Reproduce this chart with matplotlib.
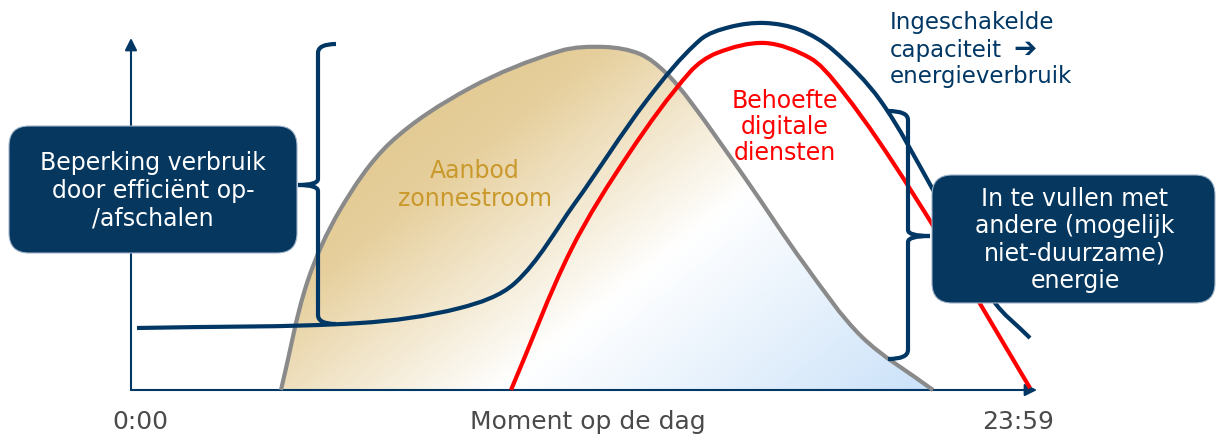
import numpy as np
import matplotlib
matplotlib.use("Agg")
import matplotlib.pyplot as plt
from matplotlib.path import Path
from matplotlib.patches import PathPatch, FancyBboxPatch
from matplotlib.colors import LinearSegmentedColormap

# time from the origin of the time axis (arbitrary units, 0:00 .. 23:59 ~ 0 .. 900)
# level above the time axis (arbitrary units)
solar_t = [150, 176, 209, 259, 339, 429, 474, 509, 534, 559, 614, 674, 731, 802]
solar_lvl = [0, 107, 180, 247, 302, 339, 343, 336, 318, 289, 212, 125, 53, 0]

capacity_t = [6, 229, 329, 384, 444, 516, 569, 599, 634, 669, 702, 749, 801, 862, 899]
capacity_lvl = [62, 67, 82, 107, 187, 290, 350, 363, 367, 360, 340, 290, 202, 90, 52]

demand_t = [380, 440, 499, 559, 586, 634, 679, 704, 749, 809, 899]
demand_lvl = [0, 140, 238, 318, 337, 347, 332, 308, 247, 153, 2]

x_labels = ["0:00", "Moment op de dag", "23:59"]
cap_label = ["Ingeschakelde", "capaciteit", "energieverbruik"]

navy = "#003764"
boxcol = "#05375F"
red = "#FF0000"
gray = "#8A8A8A"
gold_txt = "#C9992C"
lbl_gray = "#4A4A4A"


def smooth_path(xs, ys, closed=False):
    # bezier through the read points (chord-length tangents)
    p = np.column_stack([xs, ys]).astype(float)
    ext = np.vstack([p[0], p, p[-1]])
    verts = [p[0]]
    codes = [Path.MOVETO]
    for i in range(1, len(ext) - 2):
        p0, p1, p2, p3 = ext[i - 1], ext[i], ext[i + 1], ext[i + 2]
        d = np.hypot(*(p2 - p1))
        m1 = (p2 - p0) / (np.hypot(*(p1 - p0)) + d)
        m2 = (p3 - p1) / (d + np.hypot(*(p3 - p2)))
        verts += [p1 + m1 * d / 3, p2 - m2 * d / 3, p2]
        codes += [Path.CURVE4] * 3
    if closed:
        verts.append(p[0])
        codes.append(Path.CLOSEPOLY)
    return Path(verts, codes)


fig = plt.figure(figsize=(12.19, 4.38), dpi=100)
ax = fig.add_axes([0, 0, 1, 1])
ax.set_xlim(-131, 1088)
ax.set_ylim(-48, 390)
ax.axis("off")

# solar area with diagonal gradient
clip = PathPatch(smooth_path(solar_t, solar_lvl, closed=True),
                 facecolor="none", edgecolor="none")
ax.add_patch(clip)
t0, t1 = min(solar_t), max(solar_t)
l1 = max(solar_lvl)
gx, gy = np.meshgrid(np.linspace(0, 1, 300), np.linspace(0, 1, 200))
u = 0.6 * gx + 0.4 * (1 - gy)
cmap = LinearSegmentedColormap.from_list(
    "sun", [(0, "#DEC183"), (0.3, "#E6CF9C"), (0.6, "#FFFFFF"), (1.0, "#CBE2F9")])
img = ax.imshow(u, cmap=cmap, vmin=0, vmax=1, extent=[t0, t1, 0, l1 + 3],
                origin="lower", aspect="auto", zorder=1)
img.set_clip_path(clip)
ax.add_patch(PathPatch(smooth_path(solar_t, solar_lvl), facecolor="none",
                       edgecolor=gray, lw=3, zorder=3, capstyle="butt"))

# axes with arrows
ax.annotate("", xy=(0, 352), xytext=(0, 0),
            arrowprops=dict(arrowstyle="-|>", color=navy, lw=1.5,
                            mutation_scale=18, shrinkA=0, shrinkB=0), zorder=2)
ax.annotate("", xy=(906, 0), xytext=(0, 0),
            arrowprops=dict(arrowstyle="-|>", color=navy, lw=1.5,
                            mutation_scale=18, shrinkA=0, shrinkB=0), zorder=2)

# curves
ax.add_patch(PathPatch(smooth_path(capacity_t, capacity_lvl), facecolor="none",
                       edgecolor=navy, lw=3, zorder=4, capstyle="butt"))
ax.add_patch(PathPatch(smooth_path(demand_t, demand_lvl), facecolor="none",
                       edgecolor=red, lw=3, zorder=4, capstyle="butt"))


# braces
def brace(x, top, bot, mid, hook, tip):
    codes = [Path.MOVETO, Path.CURVE3, Path.CURVE3, Path.LINETO, Path.CURVE3, Path.CURVE3,
             Path.CURVE3, Path.CURVE3, Path.LINETO, Path.CURVE3, Path.CURVE3]
    pts = [(hook, top), (x, top), (x, top - 9), (x, mid + 6), (x, mid), (tip, mid),
           (x, mid), (x, mid - 6), (x, bot + 9), (x, bot), (hook, bot)]
    ax.add_patch(PathPatch(Path(pts, codes), facecolor="none", edgecolor=navy,
                           lw=3, zorder=4, capstyle="butt"))


brace(187, 346, 66, 205, 205, 167)
brace(777, 279, 31, 154, 757, 799)

# boxes
ax.add_patch(FancyBboxPatch((-122, 137), 288, 127,
                            boxstyle="round,pad=0,rounding_size=20",
                            facecolor=boxcol, edgecolor="#9FB3C8", lw=0.8, zorder=5))
ax.text(22, 199, "Beperking verbruik\ndoor efficiënt op-\n/afschalen", color="white",
        fontsize=17, ha="center", va="center", linespacing=1.2, zorder=6)

ax.add_patch(FancyBboxPatch((801, 87), 283, 128,
                            boxstyle="round,pad=0,rounding_size=20",
                            facecolor=boxcol, edgecolor="#9FB3C8", lw=0.8, zorder=5))
ax.text(944, 150, "In te vullen met\nandere (mogelijk\nniet-duurzame)\nenergie",
        color="white", fontsize=17, ha="center", va="center", linespacing=1.18, zorder=6)

# labels
ax.text(344, 205, "Aanbod\nzonnestroom", color=gold_txt, fontsize=17,
        ha="center", va="center", linespacing=1.2, zorder=6)
ax.text(654, 263, "Behoefte\ndigitale\ndiensten", color=red, fontsize=17,
        ha="center", va="center", linespacing=1.1, zorder=6)
for i, line in enumerate(cap_label):
    ax.text(759, 367 - 27 * i, line, color=navy, fontsize=16.5,
            ha="left", va="center", zorder=6)
ax.text(882, 341, "➔", color=navy, fontsize=20, fontweight="bold",
        ha="left", va="center", zorder=6)

for i, lab in enumerate(x_labels):
    ax.text([9, 457, 887][i], -32, lab, color=lbl_gray, fontsize=18,
            ha="center", va="center")

fig.savefig("out.png", dpi=100)
